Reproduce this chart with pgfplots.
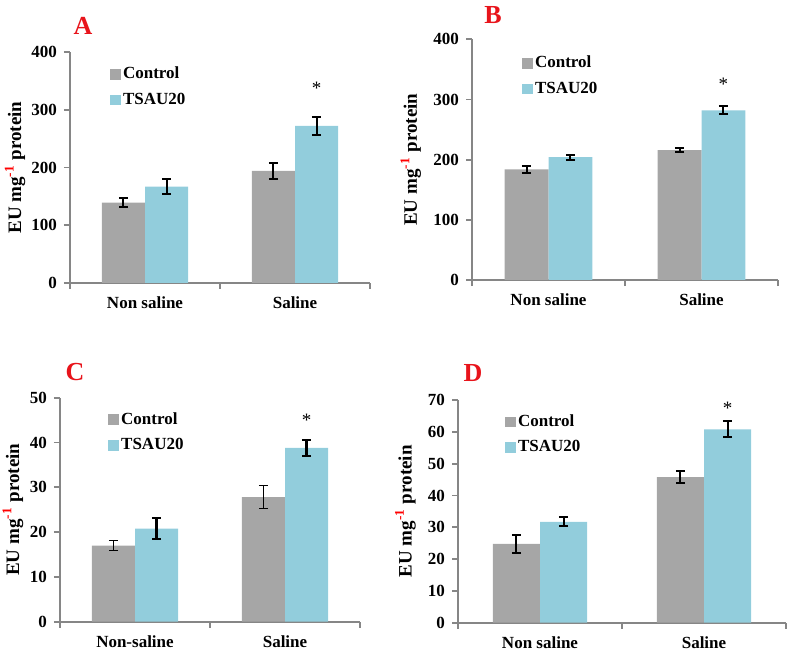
\documentclass[border=0pt]{standalone}
\usepackage{fontspec}
\setmainfont{Liberation Serif}
\usepackage{pgfplots}
\pgfplotsset{compat=1.18}

\definecolor{ctrl}{HTML}{A6A6A6}
\definecolor{tsau}{HTML}{92CDDC}
\definecolor{axisgray}{HTML}{868686}
\definecolor{panelred}{HTML}{E8141B}

\tikzset{
  starnode/.style={font=\fontsize{9.5}{10}\selectfont, anchor=center},
  letter/.style={font=\fontsize{13}{15}\selectfont\bfseries, text=panelred},
}

\pgfplotsset{
  panel/.style={
    scale only axis,
    ybar, bar width=0.287,
    xmin=-0.5, xmax=1.5, ymin=0,
    axis lines*=left,
    axis line style={-, draw=axisgray, line width=0.9pt},
    tick align=outside,
    major tick length=3pt,
    tick style={draw=axisgray, line width=0.9pt},
    xtick={-0.5,0.5,1.5}, xticklabels={,,},
    extra x ticks={0,1},
    extra x tick style={major tick length=0pt},
    xticklabel style={font=\fontsize{8.5}{10}\selectfont\bfseries, yshift=-3.5pt},
    yticklabel style={font=\fontsize{8.5}{10}\selectfont\bfseries},
    /pgf/number format/assume math mode=true,
    ylabel={EU mg\textsuperscript{\textcolor{red}{-1}} protein},
    ylabel style={font=\fontsize{9.5}{11}\selectfont\bfseries, anchor=center},
    legend style={draw=none, fill=none, anchor=north west,
      font=\fontsize{8.5}{10}\selectfont\bfseries, row sep=3.5pt,
      inner sep=0pt, nodes={inner sep=1pt}},
    legend cell align=left,
  },
  errs/.style={error bars/y dir=both, error bars/y explicit,
    error bars/error bar style={line width=#1, black},
    error bars/error mark options={rotate=90, mark size=2.3pt, line width=#1, black}},
  ctrlbar/.style={fill=ctrl, draw=none, bar shift=-0.1435, errs=#1,
    legend image code/.code={\fill[ctrl] (0pt,-2.7pt) rectangle (5.4pt,2.7pt);}},
  ctrlbar/.default=1pt,
  tsaubar/.style={fill=tsau, draw=none, bar shift=0.1435, errs=#1,
    legend image code/.code={\fill[tsau] (0pt,-2.7pt) rectangle (5.4pt,2.7pt);}},
  tsaubar/.default=1pt,
}

\begin{document}
\begin{tikzpicture}
\useasboundingbox (0,0) rectangle (393.5pt,327pt);

% panel A
\begin{axis}[panel, at={(35pt,185.5pt)}, anchor=south west,
  width=150pt, height=115.5pt, ymax=400, ytick distance=100,
  extra x tick labels={Non saline,Saline},
  ylabel style={at={(axis description cs:-0.183,0.5)}},
  legend style={at={(axis description cs:0.133,0.945)}}]
\addplot[ctrlbar] coordinates {(0,139) +- (0,8) (1,194) +- (0,14)};
\addplot[tsaubar] coordinates {(0,167) +- (0,13.5) (1,272) +- (0,15)};
\legend{Control,TSAU20}
\node[starnode] at (axis cs:1.1435,337) {*};
\end{axis}

% panel B
\begin{axis}[panel, at={(236pt,187pt)}, anchor=south west,
  width=153pt, height=120.35pt, ymax=400, ytick distance=100,
  extra x tick labels={Non saline,Saline},
  ylabel style={at={(axis description cs:-0.2,0.5)}},
  legend style={at={(axis description cs:0.163,0.94)}}]
\addplot[ctrlbar] coordinates {(0,184) +- (0,6) (1,216) +- (0,4)};
\addplot[tsaubar] coordinates {(0,204) +- (0,4.5) (1,282) +- (0,6.5)};
\legend{Control,TSAU20}
\node[starnode] at (axis cs:1.1435,325) {*};
\end{axis}

% panel C
\begin{axis}[panel, at={(30pt,16.15pt)}, anchor=south west,
  width=150pt, height=112pt, ymax=50, ytick distance=10,
  extra x tick labels={Non-saline,Saline},
  ylabel style={at={(axis description cs:-0.157,0.5)}},
  legend style={at={(axis description cs:0.16,0.945)}}]
\addplot[ctrlbar=0.5pt] coordinates {(0,17.0) +- (0,1.2) (1,27.8) +- (0,2.5)};
\addplot[tsaubar=1.2pt] coordinates {(0,20.8) +- (0,2.4) (1,38.8) +- (0,1.8)};
\legend{Control,TSAU20}
\node[starnode] at (axis cs:1.1435,45) {*};
\end{axis}

% panel D
\begin{axis}[panel, at={(229pt,15.65pt)}, anchor=south west,
  width=164pt, height=111.35pt, ymax=70, ytick distance=10,
  extra x tick labels={Non saline,Saline},
  ylabel style={at={(axis description cs:-0.16,0.5)}},
  legend style={at={(axis description cs:0.143,0.945)}}]
\addplot[ctrlbar] coordinates {(0,24.8) +- (0,2.9) (1,45.8) +- (0,2)};
\addplot[tsaubar] coordinates {(0,31.7) +- (0,1.4) (1,60.8) +- (0,2.5)};
\legend{Control,TSAU20}
\node[starnode] at (axis cs:1.1435,67.5) {*};
\end{axis}

\node[letter] at (41.5pt,314pt) {A};
\node[letter] at (246.5pt,319.5pt) {B};
\node[letter] at (37.5pt,141pt) {C};
\node[letter] at (236.5pt,140.5pt) {D};
\end{tikzpicture}
\end{document}
